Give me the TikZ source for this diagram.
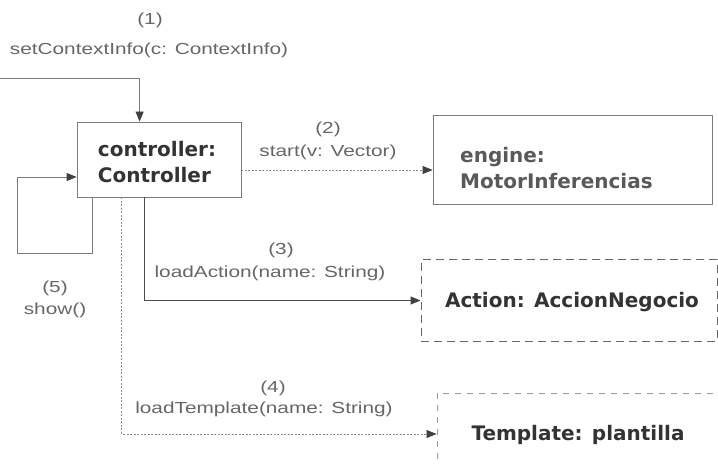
\documentclass[tikz,border=0pt]{standalone}
\usepackage{fontspec}
\setmainfont{Liberation Sans}
\newfontfamily\lblfont[FakeStretch=1.3]{Liberation Sans}
\newfontfamily\boxfont{DejaVu Sans}
\usetikzlibrary{arrows.meta,calc}
\definecolor{lblgray}{HTML}{666666}
\definecolor{linegray}{HTML}{7A7A7A}
\definecolor{boxtext}{HTML}{333333}
\tikzset{
  lbl/.style={font=\lblfont\fontsize{16}{19}\selectfont, text=lblgray, inner sep=0pt},
  boxtxt/.style={font=\boxfont\bfseries\fontsize{20}{26}\selectfont, text=boxtext, inner sep=0pt},
  objbox/.style={draw=linegray, line width=0.8pt, inner sep=0pt},
  dashbox/.style={draw=black!60, line width=1pt, dash pattern=on 8pt off 5pt, inner sep=0pt},
  lightdashbox/.style={draw=black!40, line width=0.9pt, dash pattern=on 6pt off 6pt, inner sep=0pt},
  tip/.style={-{Triangle[length=10pt,width=8pt,color=black!75,fill=black!75]}},
  msg/.style={draw=linegray, line width=0.8pt, tip},
  msgdotted/.style={draw=black!45, line width=0.8pt, dash pattern=on 2pt off 1.5pt, tip},
  msgstrong/.style={draw=black!70, line width=1.3pt, tip},
}
\begin{document}
\begin{tikzpicture}[x=1pt,y=-1pt]
\useasboundingbox (0,0) rectangle (718,465);
\clip (0,0) rectangle (718,465);

% boxes
\node[objbox, minimum width=164pt, minimum height=75pt] (controller) at (159,159.5) {};
\node[boxtxt, align=left] (controllertext) at (157,162) {controller:\\Controller};

\node[objbox, minimum width=279pt, minimum height=89pt] (engine) at (572.5,159.5) {};
\node[boxtxt, align=left, anchor=west, text=black!65] (enginetext) at (460,168) {engine:\\MotorInferencias};

\node[dashbox, minimum width=296pt, minimum height=81pt] (action) at (569,300.5) {};
\node[boxtxt] (actiontext) at (572,302) {Action: AccionNegocio};

\node[lightdashbox, minimum width=300pt, minimum height=84pt] (template) at (587,435) {};
\node[boxtxt] (templatetext) at (578,435) {Template: plantilla};

% (1)
\coordinate (entry) at (0,78);
\draw[msg] (entry) -| ($(controller.north west)+(63,0)$);
\node[lbl] (l1a) at (150,20) {(1)};
\node[lbl] (l1b) at (149,50) {setContextInfo(c: ContextInfo)};

% (2)
\draw[msgdotted] ($(controller.east)+(0,10.5)$) -- ($(engine.west)+(0,10.5)$);
\node[lbl] (l2a) at (328,129) {(2)};
\node[lbl] (l2b) at (328,152) {start(v: Vector)};

% (3)
\draw[msgstrong] ($(controller.south west)+(68,0)$) |- (action.west);
\node[lbl] (l3a) at (281,250) {(3)};
\node[lbl] (l3b) at (270,273) {loadAction(name: String)};

% (4)
\draw[msgdotted] ($(controller.south west)+(45,0)$) |- ($(template.west)+(0,-1)$);
\node[lbl] (l4a) at (273,388) {(4)};
\node[lbl] (l4b) at (264,409) {loadTemplate(name: String)};

% (5)
\coordinate (loopcorner) at (17,253);
\draw[msg] ($(controller.south west)+(16,0)$) |- (loopcorner) |- ($(controller.west)+(0,17.5)$);
\node[lbl] (l5a) at (55,288) {(5)};
\node[lbl] (l5b) at (55,310) {show()};
\end{tikzpicture}
\end{document}
